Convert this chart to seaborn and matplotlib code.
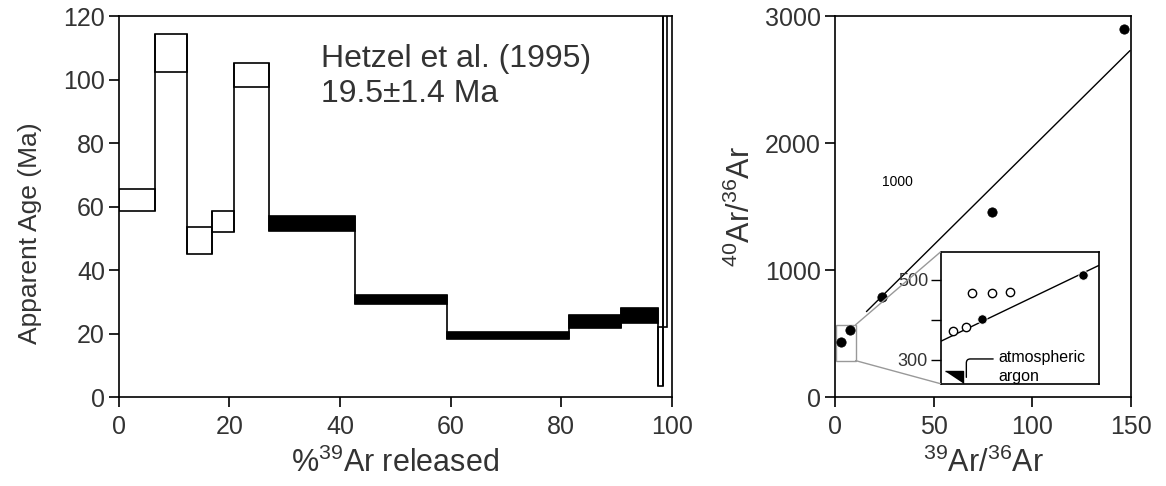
import matplotlib
matplotlib.use("Agg")
import numpy as np
import pandas as pd
import matplotlib.pyplot as plt
import seaborn as sns
from matplotlib.patches import ConnectionPatch, Rectangle

# Espectro de idades (passos de aquecimento)
step_start = [0, 6.6, 12.4, 16.9, 20.9, 27.1, 42.8, 59.3, 81.4, 90.8, 97.6, 98.5]
step_end = [6.6, 12.4, 16.9, 20.9, 27.1, 42.8, 59.3, 81.4, 90.8, 97.6, 98.5, 99.2]
age_low = [58.5, 102.5, 45.2, 51.9, 97.8, 52.4, 29.2, 18.2, 21.8, 23.2, 3.5, 22.2]
age_high = [65.6, 114.3, 53.6, 58.5, 105.1, 57.0, 32.1, 20.5, 25.8, 28.2, 22.2, 130.0]
plateau = [False, False, False, False, False, True, True, True, True, True, False, False]

# Isocrona
iso_x = [146.6, 79.7, 23.7, 7.5, 3.1]
iso_y = [2896, 1454, 791, 525, 433]
fit_x = [16.0, 149.5]
fit_y = [673, 2728]

# Detalhe (inset)
ins_fill_x = [3.05, 7.49]
ins_fill_y = [402, 512]
ins_open_x = [1.76, 2.31, 2.58, 3.46, 4.26]
ins_open_y = [372, 381, 468, 468, 470]
ins_fit_x = [1.2, 8.2]
ins_fit_y = [346, 536]
atm_x = [1.79]
atm_y = [259]

sns.set_style("white")
plt.rcParams["font.family"] = ["Liberation Sans", "DejaVu Sans"]
plt.rcParams["mathtext.default"] = "regular"
txt = "#333333"

fig = plt.figure(figsize=(11.66, 4.86), dpi=100)
ax1 = fig.add_axes([0.102, 0.183, 0.474, 0.784])
ax2 = fig.add_axes([0.716, 0.183, 0.254, 0.784])

# --- painel esquerdo ---
df = pd.DataFrame({"x0": step_start, "x1": step_end, "lo": age_low,
                   "hi": age_high, "plateau": plateau})
ax1.bar(df["x0"], df["hi"] - df["lo"], width=df["x1"] - df["x0"], bottom=df["lo"],
        align="edge", color=np.where(df["plateau"], "black", "white"),
        edgecolor="black", linewidth=1.2, zorder=2)
# linhas verticais ligando os passos
for i in range(len(df) - 1):
    ax1.vlines(df["x1"][i], min(df["lo"][i], df["lo"][i + 1]),
               max(df["hi"][i], df["hi"][i + 1]), color="black", lw=1.2, zorder=3)

ax1.set_xlim(0, 100)
ax1.set_ylim(0, 120)
ax1.set_xticks(range(0, 101, 20))
ax1.set_yticks(range(0, 121, 20))
ax1.set_xlabel("%$^{39}$Ar released", fontsize=22, color=txt, labelpad=6)
ax1.set_ylabel("Apparent Age (Ma)", fontsize=19, color=txt)
ax1.yaxis.set_label_coords(-0.14, 0.43)
ax1.text(36.5, 101, "Hetzel et al. (1995)\n19.5±1.4 Ma", fontsize=23, color=txt,
         va="center", ha="left", linespacing=1.22)

# --- painel direito ---
sns.lineplot(x=fit_x, y=fit_y, color="black", lw=1, ax=ax2)
sns.scatterplot(x=iso_x, y=iso_y, color="black", marker="o", s=45,
                edgecolor="black", ax=ax2, zorder=4)
ax2.add_patch(Rectangle((0.7, 287), 9.8, 282, fill=False, edgecolor="#999999", lw=1))
ax2.text(31.5, 1692, "1000", fontsize=10, color="black", ha="center", va="center")
ax2.set_xlim(0, 150)
ax2.set_ylim(0, 3000)
ax2.set_xticks([0, 50, 100, 150])
ax2.set_yticks([0, 1000, 2000, 3000])
ax2.set_xlabel("$^{39}$Ar/$^{36}$Ar", fontsize=22, color=txt, labelpad=6)
ax2.set_ylabel("$^{40}$Ar/$^{36}$Ar", fontsize=22, color=txt, labelpad=6)

for ax in (ax1, ax2):
    ax.tick_params(direction="out", length=7, width=1.2, labelsize=18,
                   colors="black", labelcolor=txt, left=True, bottom=True)
    ax.tick_params(axis="x", pad=6)
    ax.tick_params(axis="y", pad=3)
    for s in ax.spines.values():
        s.set_color("black")
        s.set_linewidth(1.2)

# --- inset ---
axi = ax2.inset_axes([0.357, 0.035, 0.534, 0.346])
sns.lineplot(x=ins_fit_x, y=ins_fit_y, color="black", lw=1, ax=axi)
sns.scatterplot(x=ins_open_x, y=ins_open_y, facecolor="white", edgecolor="black",
                marker="o", s=36, linewidth=1, ax=axi, zorder=4)
sns.scatterplot(x=ins_fill_x, y=ins_fill_y, color="black", marker="o", s=45,
                ax=axi, zorder=4)
tri = [(-1, 0.5), (1, 0.5), (1, -0.7)]
axi.scatter(atm_x, atm_y, marker=tri, s=180, color="black", zorder=4)
axi.text(3.75, 282, "atmospheric\nargon", fontsize=11.5, color="black",
         ha="left", va="center", linespacing=1.4)
axi.annotate("", xy=(atm_x[0] + 0.55, atm_y[0] - 10), xytext=(3.65, 302),
             arrowprops=dict(arrowstyle="-", color="black", lw=1,
                             connectionstyle="angle,angleA=180,angleB=90,rad=4"))
axi.set_xlim(1.2, 8.2)
axi.set_ylim(240, 570)
axi.set_xticks([])
axi.set_yticks([300, 400, 500])
axi.set_yticklabels(["300", "", "500"])
axi.tick_params(axis="y", direction="out", length=7, width=1, labelsize=13, left=True,
                colors="black", labelcolor=txt, pad=2)
axi.set_facecolor("white")
for s in axi.spines.values():
    s.set_color("black")
    s.set_linewidth(1.2)

# linhas ligando a caixa ao detalhe
for yb, ya in [(569, 1), (287, 0)]:
    con = ConnectionPatch(xyA=(10.5, yb), coordsA=ax2.transData,
                          xyB=(0, ya), coordsB=axi.transAxes,
                          color="#999999", lw=1)
    fig.add_artist(con)

plt.savefig("out.png", dpi=100, facecolor="white")
